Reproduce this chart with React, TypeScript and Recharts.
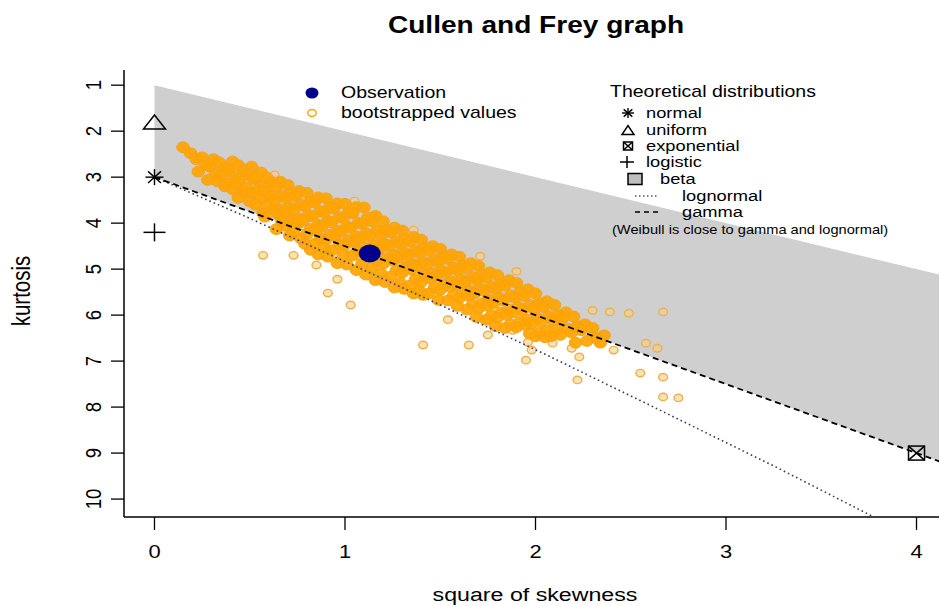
import { ComposedChart, XAxis, YAxis, Area, Scatter } from "recharts";

const FONT = "'Liberation Sans', Arial, Helvetica, sans-serif";
// the reference image is stretched horizontally
const SX = 1.22;

const xTicks = [0, 1, 2, 3, 4];
const yTicks = [1, 2, 3, 4, 5, 6, 7, 8, 9, 10];
const xDomain = [-0.16, 4.16];
const yDomain = [0.67, 10.39];

// beta region: upper limit (1 + skew^2) down to the gamma line
const betaRegion = [
  { x: 0, band: [1, 3] },
  { x: 4.16, band: [5.16, 9.24] },
];

const gammaLine = [
  { x: 0, y: 3 },
  { x: 4.16, y: 9.24 },
];

const lognormalLine = [
  { x: 0, y: 3 },
  { x: 0.47, y: 3.84 },
  { x: 0.96, y: 4.76 },
  { x: 1.49, y: 5.76 },
  { x: 2.05, y: 6.85 },
  { x: 2.64, y: 8.04 },
  { x: 3.27, y: 9.32 },
  { x: 3.79, y: 10.42 },
];

const observation = [{ x: 1.13, y: 4.66 }];
const normalPt = [{ x: 0, y: 3 }];
const uniformPt = [{ x: 0, y: 1.8 }];
const logisticPt = [{ x: 0, y: 4.2 }];
const exponentialPt = [{ x: 4, y: 9 }];

// bootstrapped (skewness^2, kurtosis) values, estimated from the dense cloud
const bootstrappedCore: [number, number][] = [
  [0.15, 2.35], [0.19, 2.48], [0.22, 2.61],
  [0.25, 2.57], [0.27, 2.74], [0.23, 2.88],
  [0.31, 2.61], [0.29, 2.77], [0.32, 2.93], [0.28, 3.06],
  [0.34, 2.68], [0.37, 2.79], [0.35, 2.97], [0.33, 3.09], [0.37, 3.2],
  [0.41, 2.66], [0.39, 2.86], [0.42, 2.99], [0.38, 3.15], [0.41, 3.26],
  [0.44, 2.74], [0.47, 2.85], [0.45, 3.03], [0.43, 3.14], [0.47, 3.32], [0.44, 3.45],
  [0.51, 2.77], [0.49, 2.95], [0.52, 3.05], [0.48, 3.23], [0.51, 3.34], [0.5, 3.53],
  [0.56, 2.9], [0.53, 3.01], [0.57, 3.19], [0.54, 3.29], [0.56, 3.48], [0.53, 3.6], [0.57, 3.78],
  [0.59, 3.01], [0.62, 3.11], [0.58, 3.3], [0.61, 3.41], [0.6, 3.6], [0.63, 3.71], [0.58, 3.86],
  [0.66, 3.1], [0.64, 3.21], [0.67, 3.4], [0.63, 3.5], [0.66, 3.7], [0.65, 3.81], [0.67, 3.97], [0.64, 4.13],
  [0.7, 3.17], [0.72, 3.35], [0.69, 3.46], [0.71, 3.65], [0.68, 3.76], [0.72, 3.94], [0.69, 4.06], [0.71, 4.27],
  [0.76, 3.3], [0.74, 3.41], [0.77, 3.59], [0.73, 3.71], [0.76, 3.9], [0.75, 4.01], [0.73, 4.2], [0.77, 4.34],
  [0.8, 3.34], [0.82, 3.53], [0.79, 3.64], [0.81, 3.83], [0.78, 3.94], [0.82, 4.13], [0.8, 4.24], [0.79, 4.45], [0.82, 4.58],
  [0.86, 3.44], [0.84, 3.55], [0.87, 3.74], [0.83, 3.85], [0.86, 4.04], [0.85, 4.15], [0.87, 4.34], [0.84, 4.45], [0.86, 4.68],
  [0.9, 3.46], [0.92, 3.65], [0.89, 3.76], [0.91, 3.95], [0.88, 4.06], [0.92, 4.25], [0.9, 4.36], [0.89, 4.55], [0.91, 4.73],
  [0.96, 3.57], [0.94, 3.68], [0.97, 3.87], [0.93, 3.98], [0.96, 4.17], [0.95, 4.28], [0.97, 4.47], [0.93, 4.59], [0.96, 4.87],
  [1.0, 3.58], [1.02, 3.77], [0.99, 3.88], [1.01, 4.07], [0.98, 4.18], [1.02, 4.37], [1.0, 4.48], [0.99, 4.68], [1.01, 4.9],
  [1.06, 3.65], [1.04, 3.78], [1.07, 3.99], [1.03, 4.1], [1.06, 4.29], [1.05, 4.4], [1.07, 4.59], [1.04, 4.7], [1.06, 5.02],
  [1.1, 3.66], [1.12, 3.88], [1.09, 4.01], [1.11, 4.22], [1.08, 4.34], [1.12, 4.54], [1.1, 4.66], [1.09, 4.87], [1.11, 5.12],
  [1.16, 3.84], [1.14, 3.96], [1.17, 4.16], [1.13, 4.28], [1.16, 4.48], [1.15, 4.6], [1.17, 4.82], [1.14, 4.98], [1.16, 5.24],
  [1.2, 3.96], [1.22, 4.15], [1.19, 4.26], [1.21, 4.45], [1.18, 4.56], [1.22, 4.76], [1.2, 4.88], [1.19, 5.1], [1.21, 5.28],
  [1.26, 4.1], [1.24, 4.2], [1.27, 4.39], [1.23, 4.5], [1.26, 4.69], [1.25, 4.81], [1.27, 5.02], [1.24, 5.16], [1.26, 5.4],
  [1.3, 4.16], [1.32, 4.34], [1.29, 4.45], [1.31, 4.64], [1.28, 4.75], [1.32, 4.95], [1.3, 5.08], [1.29, 5.3], [1.31, 5.43],
  [1.36, 4.3], [1.34, 4.4], [1.37, 4.59], [1.33, 4.7], [1.36, 4.89], [1.35, 5.01], [1.37, 5.22], [1.34, 5.36], [1.36, 5.53],
  [1.4, 4.36], [1.42, 4.54], [1.39, 4.65], [1.41, 4.84], [1.38, 4.95], [1.42, 5.14], [1.4, 5.28], [1.39, 5.47], [1.41, 5.56],
  [1.46, 4.5], [1.44, 4.6], [1.47, 4.79], [1.43, 4.9], [1.46, 5.09], [1.45, 5.2], [1.47, 5.4], [1.44, 5.53],
  [1.5, 4.56], [1.52, 4.74], [1.49, 4.85], [1.51, 5.04], [1.48, 5.15], [1.52, 5.34], [1.5, 5.45], [1.49, 5.67],
  [1.56, 4.68], [1.54, 4.78], [1.57, 4.97], [1.53, 5.08], [1.56, 5.27], [1.55, 5.38], [1.57, 5.57], [1.54, 5.68],
  [1.6, 4.73], [1.62, 4.92], [1.59, 5.03], [1.61, 5.22], [1.58, 5.33], [1.62, 5.52], [1.6, 5.63], [1.59, 5.8],
  [1.66, 4.87], [1.64, 4.98], [1.67, 5.17], [1.63, 5.28], [1.66, 5.47], [1.65, 5.58], [1.67, 5.77], [1.64, 5.88],
  [1.7, 4.93], [1.72, 5.12], [1.69, 5.23], [1.71, 5.42], [1.68, 5.53], [1.72, 5.74], [1.7, 5.86], [1.69, 6.04],
  [1.76, 5.07], [1.74, 5.18], [1.77, 5.37], [1.73, 5.48], [1.76, 5.67], [1.75, 5.8], [1.77, 6.0], [1.74, 6.1],
  [1.8, 5.13], [1.82, 5.32], [1.79, 5.43], [1.81, 5.62], [1.78, 5.74], [1.82, 5.94], [1.8, 6.06], [1.79, 6.24],
  [1.86, 5.24], [1.84, 5.36], [1.87, 5.57], [1.83, 5.68], [1.86, 5.88], [1.85, 6.0], [1.87, 6.2], [1.84, 6.28],
  [1.9, 5.3], [1.92, 5.5], [1.89, 5.62], [1.91, 5.82], [1.88, 5.94], [1.92, 6.14], [1.9, 6.26],
  [1.96, 5.44], [1.94, 5.58], [1.97, 5.78], [1.93, 5.9], [1.96, 6.1], [1.95, 6.22], [1.97, 6.4],
  [2.0, 5.53], [2.02, 5.74], [1.99, 5.86], [2.01, 6.06], [1.98, 6.18], [2.02, 6.38], [2.0, 6.46],
  [2.06, 5.7], [2.04, 5.82], [2.07, 6.02], [2.03, 6.14], [2.06, 6.34], [2.05, 6.48],
  [2.1, 5.78], [2.12, 6.0], [2.09, 6.12], [2.11, 6.32], [2.08, 6.46],
  [2.16, 5.94], [2.14, 6.08], [2.17, 6.3], [2.13, 6.43],
  [2.2, 6.03], [2.22, 6.24], [2.19, 6.38], [2.21, 6.6],
  [2.26, 6.2], [2.24, 6.33], [2.27, 6.56],
  [2.3, 6.28], [2.32, 6.5],
  [2.36, 6.44], [2.34, 6.6],
];

// bootstrapped values scattered away from the core
const bootstrappedSparse: [number, number][] = [
  [0.57, 4.7], [0.73, 4.7], [0.85, 4.91], [0.91, 5.52], [1.03, 5.78], [0.96, 5.22],
  [0.63, 2.95], [1.05, 3.52], [1.36, 4.15], [1.71, 4.72], [1.9, 5.05],
  [1.41, 6.65], [1.65, 6.65], [1.54, 6.1], [1.75, 6.43], [1.88, 6.33], [1.75, 6.1],
  [1.96, 6.59], [1.98, 6.76], [1.95, 6.98], [2.09, 6.61], [2.19, 6.72], [2.23, 6.91],
  [2.22, 7.41], [2.41, 6.76], [2.39, 5.93], [2.49, 5.96], [2.67, 5.93], [2.58, 6.61],
  [2.64, 6.72], [2.55, 7.26], [2.67, 7.35], [2.67, 7.78], [2.75, 7.8], [2.3, 5.9],
];

const corePoints = bootstrappedCore.map(([x, y]) => ({ x, y }));
const sparsePoints = bootstrappedSparse.map(([x, y]) => ({ x, y }));

const leftLegend = ["Observation", "bootstrapped values"];
const theoreticalTitle = "Theoretical distributions";
const theoreticalLabels = ["normal", "uniform", "exponential", "logistic", "beta", "lognormal", "gamma"];
const weibullNote = "(Weibull is close to gamma and lognormal)";

function StretchText({ x, y, size, rotate, anchor = "middle", bold, children }: any) {
  const tr = `translate(${x},${y}) scale(${SX},1)` + (rotate ? ` rotate(${rotate})` : "");
  return (
    <g transform={tr}>
      <text
        x={0}
        y={0}
        fontSize={size}
        fontFamily={FONT}
        fontWeight={bold ? 700 : 400}
        textAnchor={anchor}
        dominantBaseline="central"
        fill="#000"
      >
        {children}
      </text>
    </g>
  );
}

function XTick(props: any) {
  const { x, y, payload } = props;
  return (
    <StretchText x={x} y={y + 22} size={18}>
      {payload.value}
    </StretchText>
  );
}

function YTick(props: any) {
  const { x, y, payload } = props;
  return (
    <StretchText x={x - 18} y={y} size={18.5} rotate={-90}>
      {payload.value}
    </StretchText>
  );
}

function Asterisk({ cx, cy, w = 9, h = 8 }: any) {
  const d = 0.72;
  return (
    <g stroke="#000" strokeWidth={1.4}>
      <line x1={cx - w} y1={cy} x2={cx + w} y2={cy} />
      <line x1={cx} y1={cy - h} x2={cx} y2={cy + h} />
      <line x1={cx - w * d} y1={cy - h * d} x2={cx + w * d} y2={cy + h * d} />
      <line x1={cx - w * d} y1={cy + h * d} x2={cx + w * d} y2={cy - h * d} />
    </g>
  );
}

function Triangle({ cx, cy, w = 11, h = 7 }: any) {
  return (
    <polygon
      points={`${cx - w},${cy + h} ${cx + w},${cy + h} ${cx},${cy - h}`}
      fill="none"
      stroke="#000"
      strokeWidth={1.5}
    />
  );
}

function Plus({ cx, cy, w = 11, h = 9 }: any) {
  return (
    <g stroke="#000" strokeWidth={1.5}>
      <line x1={cx - w} y1={cy} x2={cx + w} y2={cy} />
      <line x1={cx} y1={cy - h} x2={cx} y2={cy + h} />
    </g>
  );
}

function BoxCross({ cx, cy, w = 8, h = 7 }: any) {
  return (
    <g stroke="#000" strokeWidth={1.5} fill="none">
      <rect x={cx - w} y={cy - h} width={w * 2} height={h * 2} />
      <line x1={cx - w} y1={cy - h} x2={cx + w} y2={cy + h} />
      <line x1={cx - w} y1={cy + h} x2={cx + w} y2={cy - h} />
    </g>
  );
}

function CoreDot({ cx, cy }: any) {
  return (
    <ellipse
      cx={cx}
      cy={cy}
      rx={6.3}
      ry={5.4}
      fill="#ffa500"
      fillOpacity={0.92}
      stroke="#f7a21a"
      strokeWidth={1}
    />
  );
}

function SparseDot({ cx, cy }: any) {
  return (
    <ellipse
      cx={cx}
      cy={cy}
      rx={4.4}
      ry={3.7}
      fill="#f3cf8c"
      fillOpacity={0.6}
      stroke="#f0b048"
      strokeWidth={1.4}
    />
  );
}

function ObsDot({ cx, cy }: any) {
  return <ellipse cx={cx} cy={cy} rx={11} ry={9} fill="#00008b" />;
}

function Overlay() {
  const rows = [113, 130, 146, 162, 179, 196, 212];
  return (
    <svg
      width={939}
      height={606}
      style={{ position: "absolute", left: 0, top: 0, pointerEvents: "none" }}
    >
      <StretchText x={536} y={25} size={23} bold>
        Cullen and Frey graph
      </StretchText>
      <StretchText x={535} y={594} size={19}>
        square of skewness
      </StretchText>
      <StretchText x={21} y={291} size={20.5} rotate={-90}>
        kurtosis
      </StretchText>

      {/* left legend */}
      <ellipse cx={312} cy={93} rx={6.5} ry={5.5} fill="#00008b" />
      <ellipse cx={312} cy={113} rx={4.2} ry={3.5} fill="none" stroke="#ffa500" strokeWidth={1.4} />
      <StretchText x={341} y={93} size={16} anchor="start">
        {leftLegend[0]}
      </StretchText>
      <StretchText x={341} y={113} size={16} anchor="start">
        {leftLegend[1]}
      </StretchText>

      {/* theoretical legend */}
      <StretchText x={610} y={92} size={16} anchor="start">
        {theoreticalTitle}
      </StretchText>
      <Asterisk cx={628} cy={rows[0]} w={6} h={5} />
      <Triangle cx={628} cy={rows[1]} w={6} h={4.5} />
      <BoxCross cx={628} cy={rows[2]} w={4.5} h={4} />
      <Plus cx={627} cy={rows[3]} w={7} h={6} />
      <rect x={628} y={rows[4] - 5.5} width={14} height={11} fill="#bebebe" stroke="#000" strokeWidth={1.5} />
      <line x1={635} y1={rows[5]} x2={659} y2={rows[5]} stroke="#000" strokeWidth={1.2} strokeDasharray="1.5 2.5" />
      <line x1={635} y1={rows[6]} x2={659} y2={rows[6]} stroke="#000" strokeWidth={1.5} strokeDasharray="5 4" />
      {theoreticalLabels.map((t, i) => (
        <StretchText
          key={t}
          x={i < 4 ? 646 : i === 4 ? 660 : 682}
          y={rows[i]}
          size={15}
          anchor="start"
        >
          {t}
        </StretchText>
      ))}
      <StretchText x={612} y={230} size={12} anchor="start">
        {weibullNote}
      </StretchText>
    </svg>
  );
}

export default function App() {
  return (
    <div
      style={{
        position: "absolute",
        left: 0,
        top: 0,
        width: 939,
        height: 606,
        overflow: "hidden",
        background: "#fff",
      }}
    >
      <ComposedChart
        width={947}
        height={606}
        data={betaRegion}
        margin={{ top: 70, right: 0, bottom: 0, left: 0 }}
      >
        <XAxis
          type="number"
          dataKey="x"
          domain={xDomain}
          ticks={xTicks}
          allowDataOverflow
          height={89}
          tickSize={13}
          tickMargin={0}
          tickLine={{ stroke: "#000", strokeWidth: 1.3 }}
          axisLine={{ stroke: "#000", strokeWidth: 1.5 }}
          tick={<XTick />}
        />
        <XAxis
          xAxisId="top"
          orientation="top"
          type="number"
          domain={xDomain}
          allowDataOverflow
          height={0}
          tick={false}
          tickLine={false}
          axisLine={{ stroke: "#000", strokeWidth: 1.5 }}
        />
        <YAxis
          type="number"
          dataKey="y"
          reversed
          domain={yDomain}
          ticks={yTicks}
          allowDataOverflow
          width={124}
          tickSize={13}
          tickMargin={0}
          tickLine={{ stroke: "#000", strokeWidth: 1.3 }}
          axisLine={{ stroke: "#000", strokeWidth: 1.5 }}
          tick={<YTick />}
        />
        <Area
          dataKey="band"
          type="linear"
          stroke="none"
          fill="#cfcfcf"
          fillOpacity={1}
          isAnimationActive={false}
        />
        <Scatter data={sparsePoints} shape={<SparseDot />} isAnimationActive={false} />
        <Scatter data={corePoints} shape={<CoreDot />} isAnimationActive={false} />
        <Scatter
          data={lognormalLine}
          line={{ stroke: "#3c3c64", strokeWidth: 1.6, strokeDasharray: "1.6 3" }}
          shape={() => <g />}
          isAnimationActive={false}
        />
        <Scatter
          data={gammaLine}
          line={{ stroke: "#000", strokeWidth: 1.8, strokeDasharray: "6 4" }}
          shape={() => <g />}
          isAnimationActive={false}
        />
        <Scatter data={normalPt} shape={<Asterisk />} isAnimationActive={false} />
        <Scatter data={uniformPt} shape={<Triangle />} isAnimationActive={false} />
        <Scatter data={logisticPt} shape={<Plus />} isAnimationActive={false} />
        <Scatter data={exponentialPt} shape={<BoxCross />} isAnimationActive={false} />
        <Scatter data={observation} shape={<ObsDot />} isAnimationActive={false} />
      </ComposedChart>
      <Overlay />
    </div>
  );
}
